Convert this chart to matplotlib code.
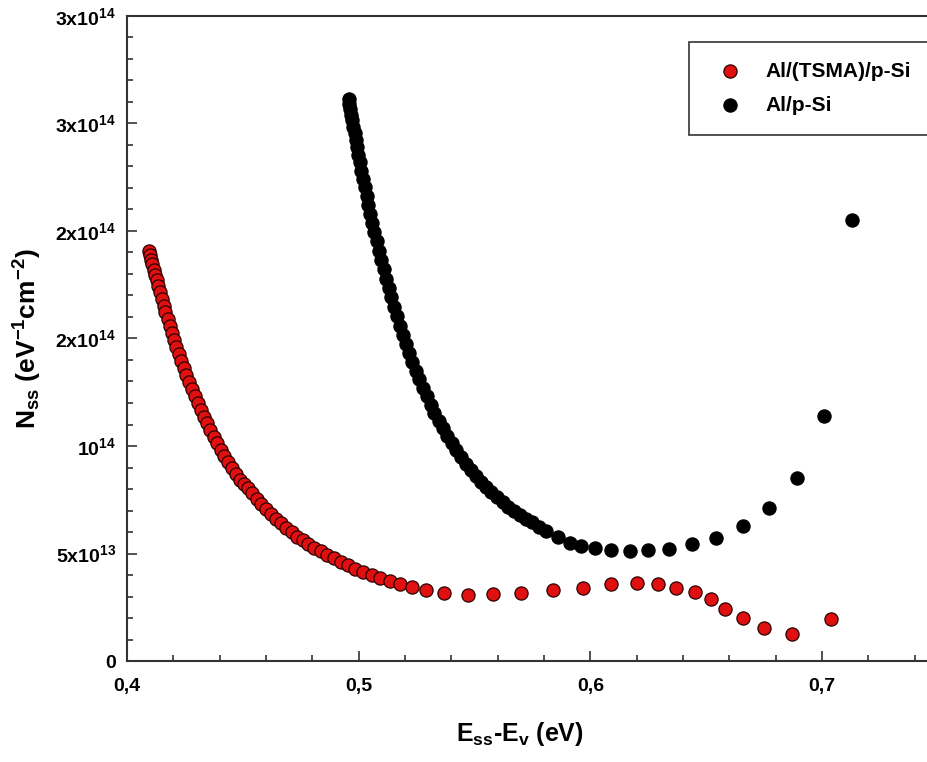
import numpy as np
import matplotlib
matplotlib.use("Agg")
import matplotlib.pyplot as plt
from matplotlib.ticker import MultipleLocator, FixedLocator, FixedFormatter

# ============================================================
# DADOS - Nss em unidades de 1e12 eV^-1 cm^-2
# ============================================================

x_tsma = [0.4096, 0.4100, 0.4105, 0.4110, 0.4116, 0.4122, 0.4128, 0.4135, 0.4142, 0.4150,
          0.4158, 0.4166, 0.4175, 0.4184, 0.4193, 0.4203, 0.4213, 0.4223, 0.4234, 0.4245,
          0.4256, 0.4268, 0.4280, 0.4292, 0.4305, 0.4318, 0.4331, 0.4345, 0.4359, 0.4374,
          0.4389, 0.4404, 0.4420, 0.4436, 0.4452, 0.4469, 0.4486, 0.4504, 0.4522, 0.4541,
          0.4560, 0.4580, 0.4600, 0.4621, 0.4642, 0.4664, 0.4687, 0.4710, 0.4734, 0.4758,
          0.4783, 0.4809, 0.4836, 0.4864, 0.4893, 0.4923, 0.4954, 0.4986, 0.5020, 0.5056,
          0.5094, 0.5135, 0.5180, 0.5230, 0.5290, 0.537, 0.547, 0.558, 0.570, 0.584,
          0.597, 0.609, 0.620, 0.629, 0.637, 0.645, 0.652, 0.658, 0.666, 0.675,
          0.687, 0.704]
y_tsma = [190.7, 188.9, 186.7, 184.6, 182.0, 179.5, 177.0, 174.2, 171.4, 168.3,
          165.3, 162.3, 159.0, 155.9, 152.7, 149.4, 146.1, 142.9, 139.5, 136.2,
          133.0, 129.7, 126.4, 123.2, 119.9, 116.7, 113.7, 110.5, 107.4, 104.2,
          101.2, 98.3, 95.3, 92.5, 89.8, 87.0, 84.4, 82.2, 80.5, 78.0,
          75.5, 73.0, 70.7, 68.4, 66.2, 64.0, 61.9, 59.9, 57.9, 56.1,
          54.3, 52.6, 51.0, 49.3, 47.7, 46.1, 44.5, 43.0, 41.5, 40.0,
          38.6, 37.2, 35.8, 34.5, 32.8, 31.5, 30.8, 31.0, 31.5, 33.0,
          34.1, 35.7, 36.1, 35.7, 34.1, 32.1, 28.7, 24.0, 19.9, 15.5,
          12.4, 19.7]

x_alsi = [0.4957, 0.4960, 0.4964, 0.4968, 0.4972, 0.4977, 0.4982, 0.4987, 0.4993, 0.4999,
          0.5005, 0.5012, 0.5019, 0.5026, 0.5034, 0.5042, 0.5050, 0.5059, 0.5068, 0.5077,
          0.5087, 0.5097, 0.5107, 0.5118, 0.5129, 0.5140, 0.5152, 0.5164, 0.5177, 0.5190,
          0.5203, 0.5217, 0.5231, 0.5246, 0.5261, 0.5277, 0.5293, 0.5310, 0.5327, 0.5345,
          0.5363, 0.5382, 0.5401, 0.5421, 0.5441, 0.5462, 0.5483, 0.5505, 0.5527, 0.5550,
          0.5573, 0.5597, 0.5621, 0.5646, 0.5671, 0.5697, 0.5723, 0.5750, 0.5780, 0.5810,
          0.586, 0.591, 0.596, 0.602, 0.609, 0.617, 0.625, 0.634, 0.644, 0.654,
          0.666, 0.677, 0.689, 0.701, 0.713]
y_alsi = [261.2, 259.3, 256.7, 254.1, 251.6, 248.5, 245.5, 242.4, 238.9, 235.4,
          232.0, 228.0, 224.2, 220.4, 216.2, 212.1, 208.1, 203.7, 199.5, 195.3,
          190.8, 186.5, 182.2, 177.7, 173.4, 169.2, 164.7, 160.5, 156.0, 151.7,
          147.6, 143.3, 139.2, 135.1, 131.1, 127.0, 123.1, 119.2, 115.5, 111.7,
          108.2, 104.6, 101.3, 98.0, 94.9, 91.8, 88.9, 86.1, 83.4, 80.9,
          78.4, 76.1, 73.9, 71.8, 69.8, 68.0, 66.2, 64.6, 62.3, 60.5,
          57.7, 55.0, 53.5, 52.4, 51.6, 51.2, 51.5, 52.2, 54.6, 57.0,
          62.6, 71.0, 85.0, 114.0, 205.0]

rotulos_y = ["0", r"5x10$^{13}$", r"10$^{14}$", r"2x10$^{14}$", r"2x10$^{14}$",
             r"3x10$^{14}$", r"3x10$^{14}$"]
rotulos_x = ["0,4", "0,5", "0,6", "0,7"]

# ============================================================
# ESTILO
# ============================================================

plt.rcParams["font.family"] = ["Liberation Sans", "DejaVu Sans"]
plt.rcParams["font.weight"] = "bold"
plt.rcParams["mathtext.fontset"] = "custom"
plt.rcParams["mathtext.rm"] = "Liberation Sans:bold"
plt.rcParams["mathtext.it"] = "Liberation Sans:bold"
plt.rcParams["mathtext.bf"] = "Liberation Sans:bold"

cor_eixo = "#333333"

fig = plt.figure(figsize=(9.28, 7.62), dpi=100)
ax = fig.add_axes([127 / 928, 101 / 762, 811 / 928, 645 / 762])

escala = 1e12
ax.scatter(np.array(x_tsma), np.array(y_tsma) * escala, s=90, c="#e01010",
           edgecolors="#2a0000", linewidths=0.9, label="Al/(TSMA)/p-Si", zorder=3)
ax.scatter(np.array(x_alsi), np.array(y_alsi) * escala, s=90, c="black",
           edgecolors="black", linewidths=0.9, label="Al/p-Si", zorder=3)

ax.set_xlim(0.4, 0.75)
ax.set_ylim(0, 3e14)

ax.xaxis.set_major_locator(FixedLocator([0.4, 0.5, 0.6, 0.7]))
ax.xaxis.set_major_formatter(FixedFormatter(rotulos_x))
ax.xaxis.set_minor_locator(MultipleLocator(0.02))
ax.yaxis.set_major_locator(FixedLocator([0, 0.5e14, 1e14, 1.5e14, 2e14, 2.5e14, 3e14]))
ax.yaxis.set_major_formatter(FixedFormatter(rotulos_y))
ax.yaxis.set_minor_locator(MultipleLocator(1e13))

ax.tick_params(which="both", direction="in", color=cor_eixo, width=1.2)
ax.tick_params(which="major", length=7)
ax.tick_params(which="minor", length=4)
ax.tick_params(axis="x", which="major", labelsize=14, pad=12)
ax.tick_params(axis="y", which="major", labelsize=14, pad=8)

for sp in ax.spines.values():
    sp.set_color(cor_eixo)
    sp.set_linewidth(1.5)

ax.set_xlabel(r"E$_{ss}$-E$_{v}$ (eV)", fontsize=18, fontweight="bold", va="center")
ax.xaxis.set_label_coords((520 - 127) / 811, -(734 - 661) / 645)
ax.set_ylabel(r"N$_{ss}$ (eV$^{-1}$cm$^{-2}$)", fontsize=19, fontweight="bold")
ax.yaxis.set_label_coords(-(127 - 44) / 811, 0.5)

leg = ax.legend(loc="upper left", bbox_to_anchor=(689 / 928, 1 - 42 / 762),
                bbox_transform=fig.transFigure, borderaxespad=0, fancybox=False,
                edgecolor=cor_eixo, framealpha=1, scatterpoints=1,
                prop={"size": 15, "weight": "bold"}, borderpad=0.95,
                handlelength=2.0, handletextpad=0.72, labelspacing=0.72)
leg.get_frame().set_linewidth(1.2)

fig.savefig("out.png", dpi=100)
